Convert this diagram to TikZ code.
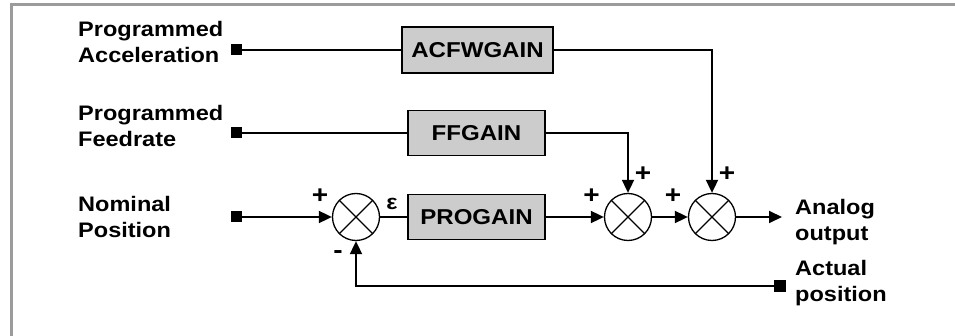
\documentclass[tikz,border=0pt]{standalone}
\usepackage{fontspec}
\usetikzlibrary{arrows.meta}
\newfontfamily\lf{Liberation Sans}[FakeStretch=1.12]
\definecolor{boxgray}{RGB}{204,204,204}
\definecolor{framegray}{RGB}{155,155,155}
\begin{document}
\begin{tikzpicture}[x=1pt,y=-1pt,
  lab/.style={font=\lf\bfseries\fontsize{21}{26}\selectfont, align=left, inner sep=0pt, anchor=north west},
  gain/.style={draw, line width=1.6pt, fill=boxgray, inner sep=0pt,
    font=\lf\bfseries\fontsize{21.5}{24}\selectfont},
  sumc/.style={circle, draw, line width=1.3pt, fill=white, minimum size=47pt, inner sep=0pt,
    path picture={\draw[line width=1.3pt]
      (path picture bounding box.north west) -- (path picture bounding box.south east)
      (path picture bounding box.north east) -- (path picture bounding box.south west);}},
  sq/.style={fill=black, minimum size=11pt, inner sep=0pt},
  conn/.style={line width=1.8pt},
  arr/.style={conn, -{Triangle[length=13pt,width=12pt]}},
  sgn/.style={font=\lf\bfseries\fontsize{25}{28}\selectfont, inner sep=0pt}]
\useasboundingbox (0,0) rectangle (955,336);
% frame
\draw[framegray, line width=3pt] (11.5,336) -- (11.5,4.5) -- (955,4.5);
% labels
\node[lab] (tacc) at (78,21.5) {Programmed\\Acceleration};
\node[lab] (tfeed) at (78,105) {Programmed\\Feedrate};
\node[lab] (tnom) at (78,196.5) {Nominal\\Position};
\node[lab] (tout) at (795,199.5) {Analog\\output};
\node[lab] (tact) at (795,260.5) {Actual\\position};
% markers
\node[sq] (m1) at (236,50) {};
\node[sq] (m2) at (236,133) {};
\node[sq] (m0) at (236,217) {};
\node[sq, minimum size=12pt] (m3) at (780,286) {};
% gain boxes
\node[gain, minimum width=151pt, minimum height=46pt] (acf) at (477.5,50) {ACFWGAIN};
\node[gain, minimum width=137pt, minimum height=45pt] (ff) at (476.5,133) {FFGAIN};
\node[gain, minimum width=137pt, minimum height=45pt] (pro) at (476.5,217) {PROGAIN};
% summing junctions
\node[sumc] (c0) at (356,217) {};
\node[sumc] (c1) at (628,217) {};
\node[sumc] (c2) at (712,217) {};
\coordinate (out) at (782,217);
% connectors
\draw[conn] (m1.east) -- (acf.west);
\draw[conn] (m2.east) -- (ff.west);
\draw[arr] (m0.east) -- (c0.west);
\draw[conn] (c0.east) -- (pro.west);
\draw[arr] (pro.east) -- (c1.west);
\draw[arr] (c1.east) -- (c2.west);
\draw[arr] (c2.east) -- (out);
\draw[arr] (acf.east) -| (c2.north);
\draw[arr] (ff.east) -| (c1.north);
\draw[arr] (m3.west) -| (c0.south);
% signs
\node[sgn] (p0) at (320,196) {+};
\node[sgn] (n0) at (338,255) {-};
\node[sgn, font=\lf\bfseries\fontsize{21}{24}\selectfont] (eps) at (392,203.5) {ε};
\node[sgn] (p1l) at (591.5,196) {+};
\node[sgn] (p1t) at (643,174.5) {+};
\node[sgn] (p2l) at (673,196) {+};
\node[sgn] (p2t) at (727,174.5) {+};
\end{tikzpicture}
\end{document}
